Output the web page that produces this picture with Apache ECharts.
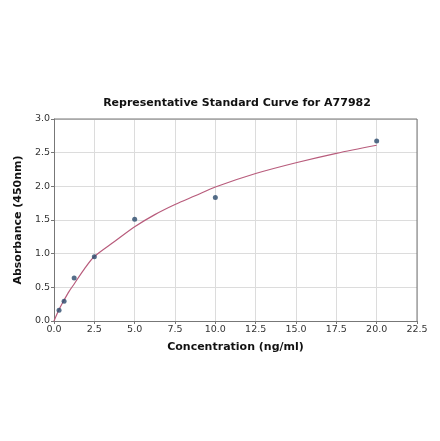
<!DOCTYPE html>
<html>
<head>
<meta charset="utf-8">
<script src="https://cdn.jsdelivr.net/npm/echarts@6/dist/echarts.min.js"></script>
<style>
  html, body {margin: 0; padding: 0; background: #fff;}
  #chart {width: 440px; height: 441px;}
</style>
</head>
<body>
<div id="chart"></div>
<script>
// measured standards
const concX = [0.3125, 0.625, 1.25, 2.5, 5, 10, 20];
const absY = [0.16, 0.295, 0.64, 0.955, 1.51, 1.835, 2.675];

// fitted curve
const fitX = [0, 0.3125, 0.625, 0.9375, 1.25, 1.875, 2.5, 3.75, 5, 6.25, 7.5, 8.75, 10, 12.5, 15, 17.5, 20];
const fitY = [0, 0.17, 0.31, 0.44, 0.55, 0.77, 0.957, 1.18, 1.40, 1.58, 1.73, 1.86, 1.99, 2.19, 2.35, 2.49, 2.61];

const fontFam = '"DejaVu Sans", sans-serif';

let chart = echarts.init(document.getElementById('chart'));
chart.setOption({
    animation: false,
    title: {
        text: 'Representative Standard Curve for A77982',
        left: 232,
        textAlign: 'center',
        top: 93,
        textStyle: {fontFamily: fontFam, fontSize: 11, fontWeight: 'bold', color: '#111'}
    },
    grid: {left: 54, right: 23, top: 119, bottom: 120},
    xAxis: {
        type: 'value',
        min: 0, max: 22.5, interval: 2.5,
        name: 'Concentration (ng/ml)',
        nameLocation: 'middle',
        nameGap: 21,
        nameTextStyle: {fontFamily: fontFam, fontSize: 11, fontWeight: 'bold', color: '#111'},
        axisLine: {show: true, onZero: false, lineStyle: {color: '#777', width: 1}},
        axisTick: {show: true, length: 3, lineStyle: {color: '#777'}},
        axisLabel: {fontFamily: fontFam, fontSize: 9.5, color: '#333', margin: 4,
            formatter: v => v.toFixed(1)},
        splitLine: {show: true, lineStyle: {color: '#dcdcdc', width: 1}}
    },
    yAxis: {
        type: 'value',
        min: 0, max: 3, interval: 0.5,
        name: 'Absorbance (450nm)',
        nameLocation: 'middle',
        nameGap: 25,
        nameTextStyle: {fontFamily: fontFam, fontSize: 11, fontWeight: 'bold', color: '#111'},
        axisLine: {show: true, onZero: false, lineStyle: {color: '#777', width: 1}},
        axisTick: {show: true, length: 3, lineStyle: {color: '#777'}},
        axisLabel: {fontFamily: fontFam, fontSize: 9.5, color: '#333', margin: 4,
            formatter: v => v.toFixed(1)},
        splitLine: {show: true, lineStyle: {color: '#dcdcdc', width: 1}}
    },
    series: [
        {
            type: 'line',
            data: fitX.map((x, i) => [x, fitY[i]]),
            smooth: 0.3,
            showSymbol: false,
            lineStyle: {color: '#b85c7c', width: 1.2},
            z: 2
        },
        {
            type: 'scatter',
            data: concX.map((x, i) => [x, absY[i]]),
            symbolSize: 5,
            itemStyle: {color: '#2b4a6b'},
            z: 3
        }
    ]
});

// box on top and right, like the original frame
let p0 = chart.convertToPixel({gridIndex: 0}, [0, 3]);
let p1 = chart.convertToPixel({gridIndex: 0}, [22.5, 0]);
chart.setOption({
    graphic: [
        {type: 'line', shape: {x1: p0[0], y1: p0[1], x2: p1[0], y2: p0[1]},
            style: {stroke: '#777', lineWidth: 1}, z: 10},
        {type: 'line', shape: {x1: p1[0], y1: p0[1], x2: p1[0], y2: p1[1]},
            style: {stroke: '#777', lineWidth: 1}, z: 10}
    ]
});
</script>
</body>
</html>
